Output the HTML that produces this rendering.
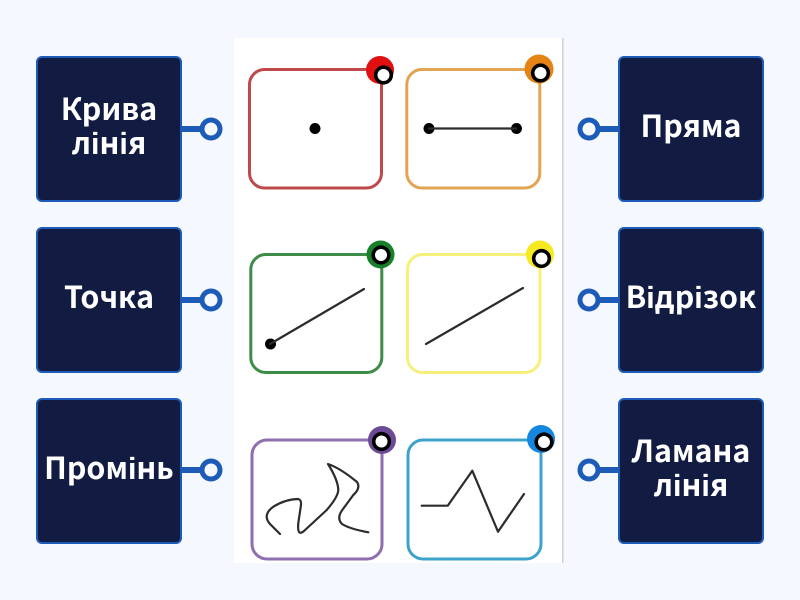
<!DOCTYPE html>
<html><head><meta charset="utf-8"><style>
html,body{margin:0;padding:0;width:800px;height:600px;overflow:hidden;background:#f5f8fe}
.card{position:absolute;box-sizing:border-box;width:146px;height:146px;padding-bottom:9px;background:#121c42;border:2px solid #1d5bb8;border-radius:6px;color:#fff;display:flex;align-items:center;justify-content:center;text-align:center;font:600 30.4px/33.5px "Noto Sans CJK JP","Liberation Sans",sans-serif}
svg{position:absolute;left:0;top:0}
</style></head><body>
<svg width="800" height="600" viewBox="0 0 800 600">
<rect x="234" y="38" width="329" height="525" fill="#fff"/>
<line x1="562.8" y1="38" x2="562.8" y2="563" stroke="#c4c6ca" stroke-width="1.2"/>
<g fill="none" stroke-width="3">
<rect x="249.5" y="69.5" width="132" height="118.5" rx="15" stroke="#c0494b"/>
<rect x="406.8" y="69.5" width="133" height="118.5" rx="15" stroke="#e2a452"/>
<rect x="250.8" y="254.5" width="131" height="118" rx="15" stroke="#3d8c48"/>
<rect x="407.5" y="254.5" width="132.5" height="118" rx="15" stroke="#f5f07a"/>
<rect x="252" y="440" width="130" height="119" rx="15" stroke="#8f6fae"/>
<rect x="408" y="440" width="133" height="119" rx="15" stroke="#3ea3cc"/>
</g>
<g fill="#000">
<circle cx="315" cy="128.5" r="5.5"/><circle cx="429" cy="128.5" r="5.5"/><circle cx="516.5" cy="128.5" r="5.5"/><circle cx="270.5" cy="344" r="5.5"/>
</g>
<g fill="none" stroke="#2c2c2c" stroke-width="2.2" stroke-linecap="round" stroke-linejoin="round">
<line x1="429" y1="128.5" x2="516" y2="128.5"/>
<line x1="270" y1="344" x2="364" y2="289"/>
<line x1="426" y1="344" x2="523" y2="288"/>
<path d="M280 534L270 524Q262 515 273.3 506.7Q286 499 298.3 499Q302 500 300.7 507L298.3 523Q297 537 304 531L326.7 510Q338 497 338.3 490Q338 480 328 464Q340 468 357 482Q361 488 353.3 495L343 509Q336 518 342 524Q350 529 368.3 532.3"/>
<path d="M421.7 505.7H447.7L472.3 470.7L498 531.7L524 494"/>
</g>
<circle cx="380" cy="70" r="14" fill="#e01010"/>
<circle cx="539" cy="69" r="14.5" fill="#e58314"/>
<circle cx="380.5" cy="254.5" r="14" fill="#18802a"/>
<circle cx="540" cy="254.5" r="14" fill="#f6e920"/>
<circle cx="382" cy="440" r="14" fill="#6d4a96"/>
<circle cx="541" cy="439" r="14" fill="#1487e0"/>
<g fill="#fff" stroke="#000" stroke-width="3.6">
<circle cx="383.5" cy="75" r="7.8"/><circle cx="540.5" cy="73" r="7.8"/>
<circle cx="381" cy="255" r="7.8"/><circle cx="541.5" cy="258.5" r="7.8"/>
<circle cx="381.5" cy="441.5" r="7.8"/><circle cx="544" cy="442" r="7.8"/>
</g>
<g fill="none" stroke="#1d5bb8" stroke-width="5">
<path d="M181 129H201M181 300H201M181 470H201M599 129H618M599 300H618M599 470H618" stroke-width="6"/>
<circle cx="211" cy="129" r="9"/><circle cx="211" cy="300" r="9"/><circle cx="211" cy="470" r="9"/>
<circle cx="589" cy="129" r="9"/><circle cx="589" cy="300" r="9"/><circle cx="589" cy="470" r="9"/>
</g>
</svg>
<div class="card" style="left:36px;top:56px">Крива<br>лінія</div>
<div class="card" style="left:36px;top:227px">Точка</div>
<div class="card" style="left:36px;top:398px">Промінь</div>
<div class="card" style="left:618px;top:56px">Пряма</div>
<div class="card" style="left:618px;top:227px">Відрізок</div>
<div class="card" style="left:618px;top:398px">Ламана<br>лінія</div>
</body></html>
